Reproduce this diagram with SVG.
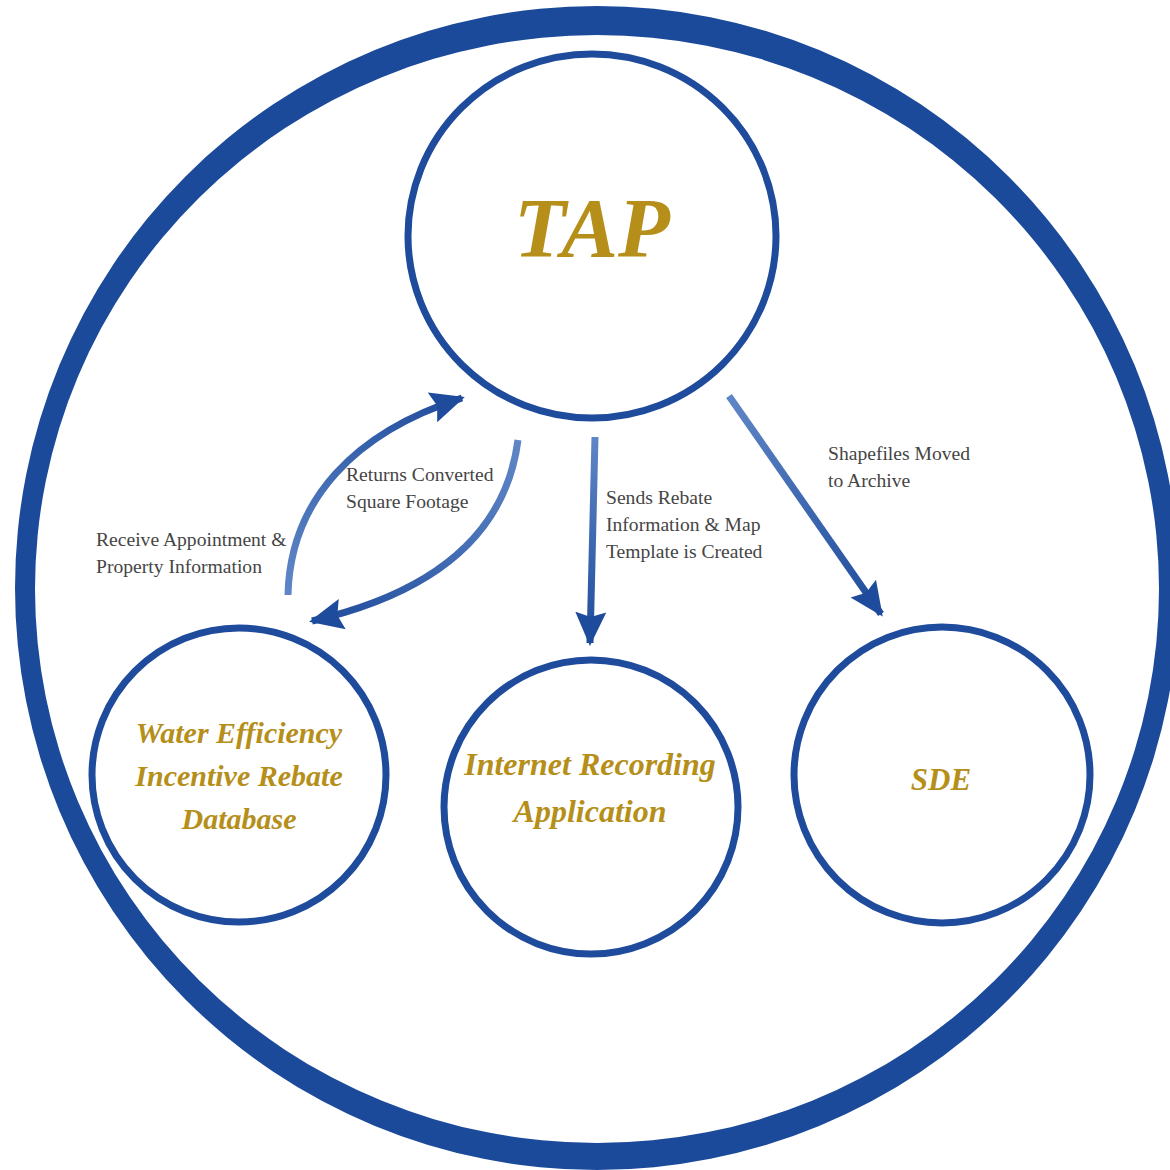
<svg xmlns="http://www.w3.org/2000/svg" width="1170" height="1170" viewBox="0 0 1170 1170">
<style>
.node{fill:#fff;stroke:#1e4b9b;stroke-width:7}
.title{font-family:"Liberation Serif","DejaVu Serif",serif;font-weight:bold;font-style:italic;fill:#b58f1a;text-anchor:middle}
.lbl{font-family:"Liberation Serif","DejaVu Serif",serif;font-size:19.6px;fill:#454545}
.conn{fill:none;stroke-width:7;stroke-linecap:butt}
</style>
<defs>
<marker id="ah" viewBox="0 0 34 34" refX="31" refY="17" markerWidth="34" markerHeight="34" markerUnits="userSpaceOnUse" orient="auto">
<path d="M0,1.5 L34,17 L0,32.5 L5,17 Z" fill="#1e4b9b"/>
</marker>
<linearGradient id="g1" gradientUnits="userSpaceOnUse" x1="288" y1="595" x2="462" y2="398"><stop offset="0" stop-color="#5f86c6"/><stop offset="1" stop-color="#1e4b9b"/></linearGradient>
<linearGradient id="g2" gradientUnits="userSpaceOnUse" x1="518" y1="440" x2="312" y2="622"><stop offset="0" stop-color="#5f86c6"/><stop offset="1" stop-color="#1e4b9b"/></linearGradient>
<linearGradient id="g3" gradientUnits="userSpaceOnUse" x1="595" y1="437" x2="590" y2="642"><stop offset="0" stop-color="#5f86c6"/><stop offset="1" stop-color="#1e4b9b"/></linearGradient>
<linearGradient id="g4" gradientUnits="userSpaceOnUse" x1="729" y1="396" x2="880" y2="614"><stop offset="0" stop-color="#5f86c6"/><stop offset="1" stop-color="#1e4b9b"/></linearGradient>
</defs>
<rect width="1170" height="1170" fill="#fff"/>
<path id="outer-ring" fill="#1c4a9a" fill-rule="evenodd" d="M15,588 A582,582 0 1,0 1179,588 A582,582 0 1,0 15,588 Z M35,589 A562,554 0 1,0 1159,589 A562,554 0 1,0 35,589 Z"/>
<g id="connectors">
<path class="conn" stroke="url(#g1)" d="M288,595 C290,500 355,432 462,398" marker-end="url(#ah)"/>
<path class="conn" stroke="url(#g2)" d="M518,440 C505,540 425,595 312,621" marker-end="url(#ah)"/>
<path class="conn" stroke="url(#g3)" d="M595,437 L590,643" marker-end="url(#ah)"/>
<path class="conn" stroke="url(#g4)" d="M729,396 L881,614" marker-end="url(#ah)"/>
</g>
<g id="labels">
<text class="lbl" x="346" y="481">Returns Converted</text>
<text class="lbl" x="346" y="508">Square Footage</text>
<text class="lbl" x="96" y="546">Receive Appointment &amp;</text>
<text class="lbl" x="96" y="573">Property Information</text>
<text class="lbl" x="606" y="504">Sends Rebate</text>
<text class="lbl" x="606" y="531">Information &amp; Map</text>
<text class="lbl" x="606" y="558">Template is Created</text>
<text class="lbl" x="828" y="460">Shapefiles Moved</text>
<text class="lbl" x="828" y="487">to Archive</text>
</g>
<g id="node-tap">
<ellipse class="node" cx="592" cy="236" rx="184" ry="182"/>
<text class="title" x="592" y="257" font-size="85">TAP</text>
</g>
<g id="node-water">
<circle class="node" cx="239" cy="775" r="147"/>
<text class="title" x="239" y="743" font-size="30">Water Efficiency</text>
<text class="title" x="239" y="786" font-size="30">Incentive Rebate</text>
<text class="title" x="239" y="829" font-size="30">Database</text>
</g>
<g id="node-internet">
<circle class="node" cx="591" cy="807" r="147"/>
<text class="title" x="590" y="775" font-size="32">Internet Recording</text>
<text class="title" x="590" y="822" font-size="32">Application</text>
</g>
<g id="node-sde">
<circle class="node" cx="942" cy="775" r="148"/>
<text class="title" x="941" y="790" font-size="31">SDE</text>
</g>
</svg>
